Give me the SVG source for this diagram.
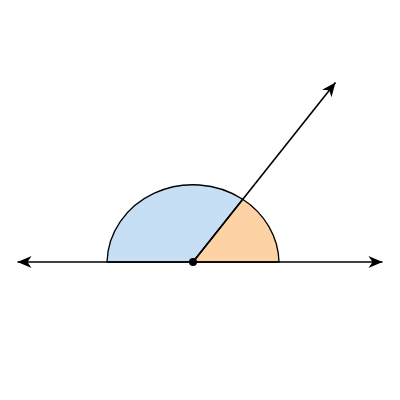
<svg xmlns="http://www.w3.org/2000/svg" width="400" height="400" viewBox="0 0 400 400">
<style>
.line{stroke:#000;stroke-width:1.6;fill:none}
.sec{stroke:#000;stroke-width:1.3}
</style>
<defs>
<marker id="ah" viewBox="-16 -8 18 16" refX="0" refY="0" markerWidth="18" markerHeight="16" markerUnits="userSpaceOnUse" orient="auto">
<path d="M0,0 L-14,-6 L-10,0 L-14,6 Z" fill="#000"/>
</marker>
</defs>
<rect width="400" height="400" fill="#fff"/>
<g id="angle-blue">
<path class="sec" d="M193,262 L107,262 A86,79 0 0 1 242.7,199.3 Z" fill="#c6dff4"/>
</g>
<g id="angle-orange">
<path class="sec" d="M193,262 L242.7,199.3 A86,79 0 0 1 279,262 Z" fill="#fdd3a6"/>
</g>
<g id="connectors">
<line class="line" x1="193" y1="262" x2="17.5" y2="262" marker-end="url(#ah)"/>
<line class="line" x1="193" y1="262" x2="382.5" y2="262" marker-end="url(#ah)"/>
<line class="line" x1="193" y1="262" x2="335.5" y2="82.5" marker-end="url(#ah)"/>
</g>
<g id="vertex">
<circle cx="193" cy="262" r="4" fill="#000"/>
</g>
</svg>
